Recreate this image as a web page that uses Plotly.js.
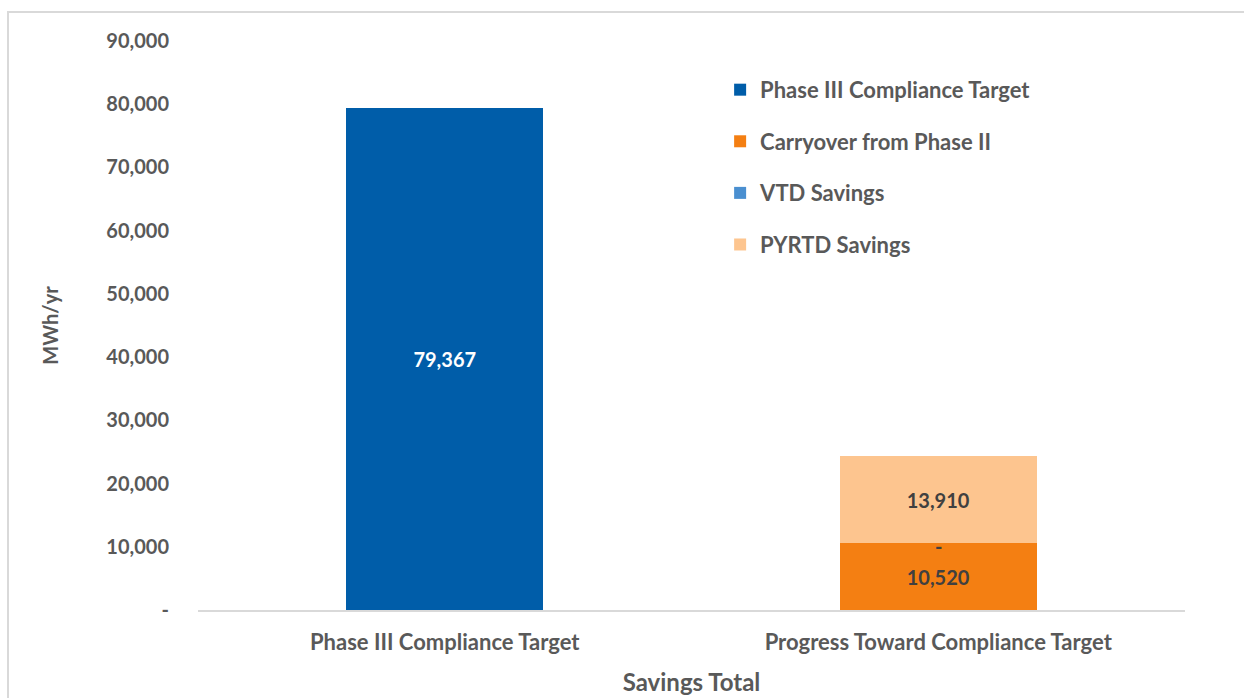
<!DOCTYPE html>
<html>
<head>
<meta charset="utf-8">
<script src="https://cdn.plot.ly/plotly-3.0.1.min.js"></script>
<style>
  html, body { margin: 0; padding: 0; background: #fff; }
  #wrap { position: relative; width: 1244px; height: 698px; overflow: hidden; }
  #chart { position: absolute; left: 0; top: 0; width: 1244px; height: 698px; }
  #frame { position: absolute; left: 7px; top: 11px; width: 1300px; height: 800px;
           border-top: 2px solid #D9D9D9; border-left: 2px solid #D9D9D9; pointer-events: none; }
</style>
</head>
<body>
<div id="wrap">
  <div id="chart"></div>
  <div id="frame"></div>
</div>
<script>
const categories = ["Phase III Compliance Target", "Progress Toward Compliance Target"];
const phase3Target = [79367, null];
const carryoverPhase2 = [null, 10520];
const vtdSavings = [null, 0];
const pyrtdSavings = [null, 13910];
const seriesNames = ["Phase III Compliance Target", "Carryover from Phase II", "VTD Savings", "PYRTD Savings"];
const yTickVals = [0, 10000, 20000, 30000, 40000, 50000, 60000, 70000, 80000, 90000];
const yTickLabels = ["-", "10,000", "20,000", "30,000", "40,000", "50,000", "60,000", "70,000", "80,000", "90,000"];

const FONT = "Lato, 'Open Sans', sans-serif";
const GRAY = "#595959";
const fmt = v => (v === null ? "" : (v === 0 ? "-" : v.toLocaleString("en-US")));

function bar(name, values, color, textColor, group) {
  return {
    type: "bar", name: name, x: categories, y: values,
    marker: { color: color },
    text: values.map(fmt), textposition: "inside", insidetextanchor: "middle",
    textfont: { family: FONT, size: 20, color: textColor, weight: "bold" },
    hoverinfo: "skip", legendgroup: group
  };
}

const traces = [
  bar(seriesNames[0], phase3Target, "#005DA9", "#FFFFFF", "g1"),
  bar(seriesNames[1], carryoverPhase2, "#F47F12", "#404040", "g2"),
  bar(seriesNames[2], vtdSavings, "#4A8FD0", "#404040", "g3"),
  bar(seriesNames[3], pyrtdSavings, "#FDC58F", "#404040", "g4")
];

const layout = {
  width: 1244, height: 698,
  margin: { l: 198, r: 59, t: 41, b: 88 },
  paper_bgcolor: "rgba(0,0,0,0)", plot_bgcolor: "rgba(0,0,0,0)",
  barmode: "stack", bargap: 0.6,
  font: { family: FONT, color: GRAY, size: 20, weight: "bold" },
  xaxis: {
    type: "category", showgrid: false, zeroline: false,
    showline: true, linecolor: "#D9D9D9", linewidth: 1.5,
    ticks: "", ticklabelstandoff: 12,
    tickfont: { family: FONT, size: 22, color: GRAY, weight: "bold" },
    title: { text: "Savings Total", font: { family: FONT, size: 24, color: GRAY, weight: "bold" }, standoff: 20 }
  },
  yaxis: {
    range: [0, 90000], tickvals: yTickVals, ticktext: yTickLabels,
    showgrid: false, zeroline: false, showline: false, ticks: "",
    ticklabelstandoff: 28,
    tickfont: { family: FONT, size: 20, color: GRAY, weight: "bold" },
    title: { text: "MWh/yr", font: { family: FONT, size: 20, color: GRAY, weight: "bold" }, standoff: 42 }
  },
  showlegend: true,
  legend: {
    x: 0.529, xanchor: "left", y: 0.951, yanchor: "top",
    traceorder: "grouped", tracegroupgap: 20,
    font: { family: FONT, size: 22, color: GRAY, weight: "bold" },
    bgcolor: "rgba(0,0,0,0)", itemclick: false
  },
  annotations: [
    {
      x: categories[1], y: carryoverPhase2[1] + vtdSavings[1], xref: "x", yref: "y",
      text: fmt(vtdSavings[1]), showarrow: false, yshift: -3,
      font: { family: FONT, size: 20, color: "#404040", weight: "bold" }
    }
  ]
};

Plotly.newPlot("chart", traces, layout, { displayModeBar: false, staticPlot: true });
</script>
</body>
</html>
